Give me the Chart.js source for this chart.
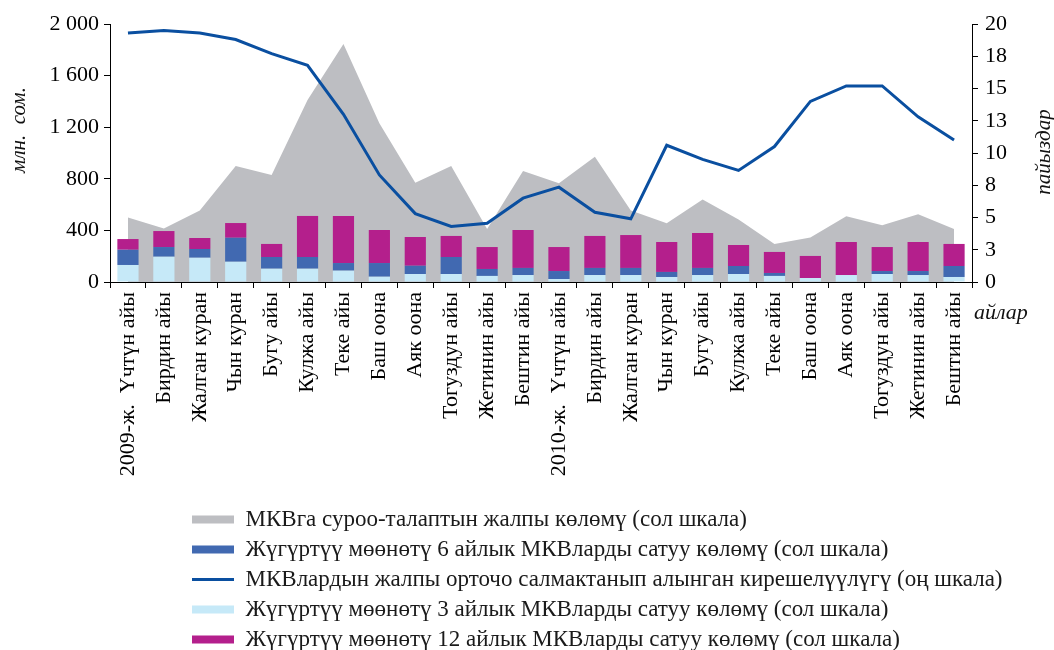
<!DOCTYPE html>
<html>
<head>
<meta charset="utf-8">
<script src="https://cdn.jsdelivr.net/npm/chart.js@4.4.1/dist/chart.umd.min.js"></script>
<style>
  html, body { margin: 0; padding: 0; background: #fff; }
  #wrap { width: 1054px; height: 650px; }
</style>
</head>
<body>
<div id="wrap"><canvas id="chart" width="1054" height="650"></canvas></div>
<script>
const months = [
    '2009-ж.  Үчтүн айы', 'Бирдин айы', 'Жалган куран', 'Чын куран', 'Бугу айы', 'Кулжа айы',
    'Теке айы', 'Баш оона', 'Аяк оона', 'Тогуздун айы', 'Жетинин айы', 'Бештин айы',
    '2010-ж.  Үчтүн айы', 'Бирдин айы', 'Жалган куран', 'Чын куран', 'Бугу айы', 'Кулжа айы',
    'Теке айы', 'Баш оона', 'Аяк оона', 'Тогуздун айы', 'Жетинин айы', 'Бештин айы'
];

// млн. сом. (сол шкала)
const demandTotal = [500, 415, 555, 900, 830, 1410, 1845, 1230, 770, 900, 410, 860,
                     765, 970, 555, 455, 640, 485, 295, 345, 510, 440, 525, 410];
const sales3m = [132, 196, 188, 157, 103, 103, 88, 41, 62, 62, 47, 54,
                 23, 54, 54, 39, 54, 62, 47, 31, 54, 62, 54, 39];
const sales6m = [118, 75, 68, 186, 91, 91, 59, 106, 64, 132, 54, 55,
                 62, 55, 55, 39, 55, 62, 23, 0, 0, 23, 31, 85];
const sales12m = [83, 124, 85, 114, 101, 318, 365, 256, 223, 163, 170, 294,
                  186, 248, 255, 232, 271, 163, 163, 171, 256, 186, 225, 171];
// пайыздар (оң шкала)
const avgYield = [19.3, 19.5, 19.3, 18.8, 17.7, 16.8, 13.0, 8.3, 5.3, 4.3, 4.55, 6.5,
                  7.35, 5.4, 4.9, 10.6, 9.5, 8.65, 10.5, 14.0, 15.2, 15.2, 12.8, 11.0];

const legendOrder = [4, 2, 0, 1, 3]; // как в оригинале
const serif = "'Liberation Serif', 'Times New Roman', serif";

const colors = {
    demand: '#bdbec2',
    s3: '#c6e9f8',
    s6: '#4169b1',
    s12: '#b41f8c',
    line: '#0a4fa0'
};

// подписи осей и "айлар"
const axisTitles = {
    id: 'axisTitles',
    afterDraw(chart) {
        const {ctx, chartArea} = chart;
        ctx.save();
        ctx.fillStyle = '#111';
        ctx.font = 'italic 21px ' + serif;
        ctx.textAlign = 'center';
        ctx.textBaseline = 'middle';

        ctx.save();
        ctx.translate(chartArea.left - 91, chartArea.top + 106);
        ctx.rotate(-Math.PI / 2);
        ctx.fillText('млн.  сом.', 0, 0);
        ctx.restore();

        ctx.save();
        ctx.translate(chartArea.right + 72, chartArea.top + 128);
        ctx.rotate(-Math.PI / 2);
        ctx.fillText('пайыздар', 0, 0);
        ctx.restore();

        ctx.font = 'italic 22px ' + serif;
        ctx.textAlign = 'left';
        ctx.fillText('айлар', chartArea.right + 2, chartArea.bottom + 31);
        ctx.restore();
    }
};

// легенда выровнена по левому краю, как в оригинале
const legendShift = {
    id: 'legendShift',
    afterLayout(chart) {
        const lg = chart.legend;
        lg.left = 185;
        lg.top += 11;
        lg.bottom += 11;
    }
};

const ctx = document.getElementById('chart').getContext('2d');
const chart = new Chart(ctx, {
    type: 'bar',
    data: {
        labels: months,
        datasets: [
            {
                type: 'line',
                label: 'МКВлардын жалпы орточо салмактанып алынган кирешелүүлүгү (оң шкала)',
                data: avgYield,
                yAxisID: 'y1',
                borderColor: colors.line,
                backgroundColor: colors.line,
                borderWidth: 3,
                pointRadius: 0,
                tension: 0,
                fill: false,
                order: 0
            },
            {
                label: 'Жүгүртүү мөөнөтү 3 айлык МКВларды сатуу көлөмү (сол шкала)',
                data: sales3m,
                backgroundColor: colors.s3,
                stack: 'sales',
                order: 1
            },
            {
                label: 'Жүгүртүү мөөнөтү 6 айлык МКВларды сатуу көлөмү (сол шкала)',
                data: sales6m,
                backgroundColor: colors.s6,
                stack: 'sales',
                order: 1
            },
            {
                label: 'Жүгүртүү мөөнөтү 12 айлык МКВларды сатуу көлөмү (сол шкала)',
                data: sales12m,
                backgroundColor: colors.s12,
                stack: 'sales',
                order: 1
            },
            {
                type: 'line',
                label: 'МКВга суроо-талаптын жалпы көлөмү (сол шкала)',
                data: demandTotal,
                yAxisID: 'y',
                stack: 'demand',
                borderWidth: 0,
                borderColor: colors.demand,
                backgroundColor: colors.demand,
                pointRadius: 0,
                tension: 0,
                fill: 'origin',
                order: 2
            }
        ]
    },
    options: {
        responsive: false,
        animation: false,
        events: [],
        categoryPercentage: 1,
        barPercentage: 0.59,
        layout: { padding: { top: 24, left: 0, right: 0, bottom: 0 } },
        plugins: {
            tooltip: { enabled: false },
            legend: {
                position: 'bottom',
                align: 'start',
                labels: {
                    usePointStyle: true,
                    pointStyleWidth: 42,
                    boxHeight: 8,
                    padding: 7,
                    color: '#1a1a1a',
                    font: { family: serif, size: 23 },
                    generateLabels(chart) {
                        return legendOrder.map(i => {
                            const ds = chart.data.datasets[i];
                            const isLine = i === 0;
                            return {
                                text: ds.label,
                                datasetIndex: i,
                                fillStyle: ds.backgroundColor,
                                strokeStyle: isLine ? ds.borderColor : ds.backgroundColor,
                                lineWidth: isLine ? 3 : 0,
                                pointStyle: isLine ? 'line' : 'rect',
                                hidden: false,
                                fontColor: '#1a1a1a'
                            };
                        });
                    }
                }
            }
        },
        scales: {
            x: {
                stacked: true,
                offset: true,
                afterFit(scale) { scale.height = 208; },
                grid: { drawOnChartArea: false, offset: true, tickLength: 6, color: '#000' },
                border: { color: '#000', width: 1 },
                ticks: {
                    autoSkip: false,
                    maxRotation: 90,
                    minRotation: 90,
                    padding: 4,
                    color: '#000',
                    font: { family: serif, size: 22 }
                }
            },
            y: {
                stacked: true,
                min: 0,
                max: 2000,
                afterFit(scale) { scale.width = 110; },
                grid: { drawOnChartArea: false, tickLength: 6, color: '#000' },
                border: { color: '#000', width: 1 },
                ticks: {
                    stepSize: 400,
                    padding: 5,
                    color: '#000',
                    font: { family: serif, size: 22 },
                    callback: v => String(v).replace(/\B(?=(\d{3})+(?!\d))/g, ' ')
                }
            },
            y1: {
                position: 'right',
                min: 0,
                max: 20,
                afterFit(scale) { scale.width = 82; },
                grid: { drawOnChartArea: false, tickLength: 6, color: '#000' },
                border: { color: '#000', width: 1 },
                ticks: {
                    stepSize: 2.5,
                    padding: 7,
                    color: '#000',
                    font: { family: serif, size: 22 },
                    callback: v => Math.round(v)
                }
            }
        }
    },
    plugins: [axisTitles, legendShift]
});
</script>
</body>
</html>
